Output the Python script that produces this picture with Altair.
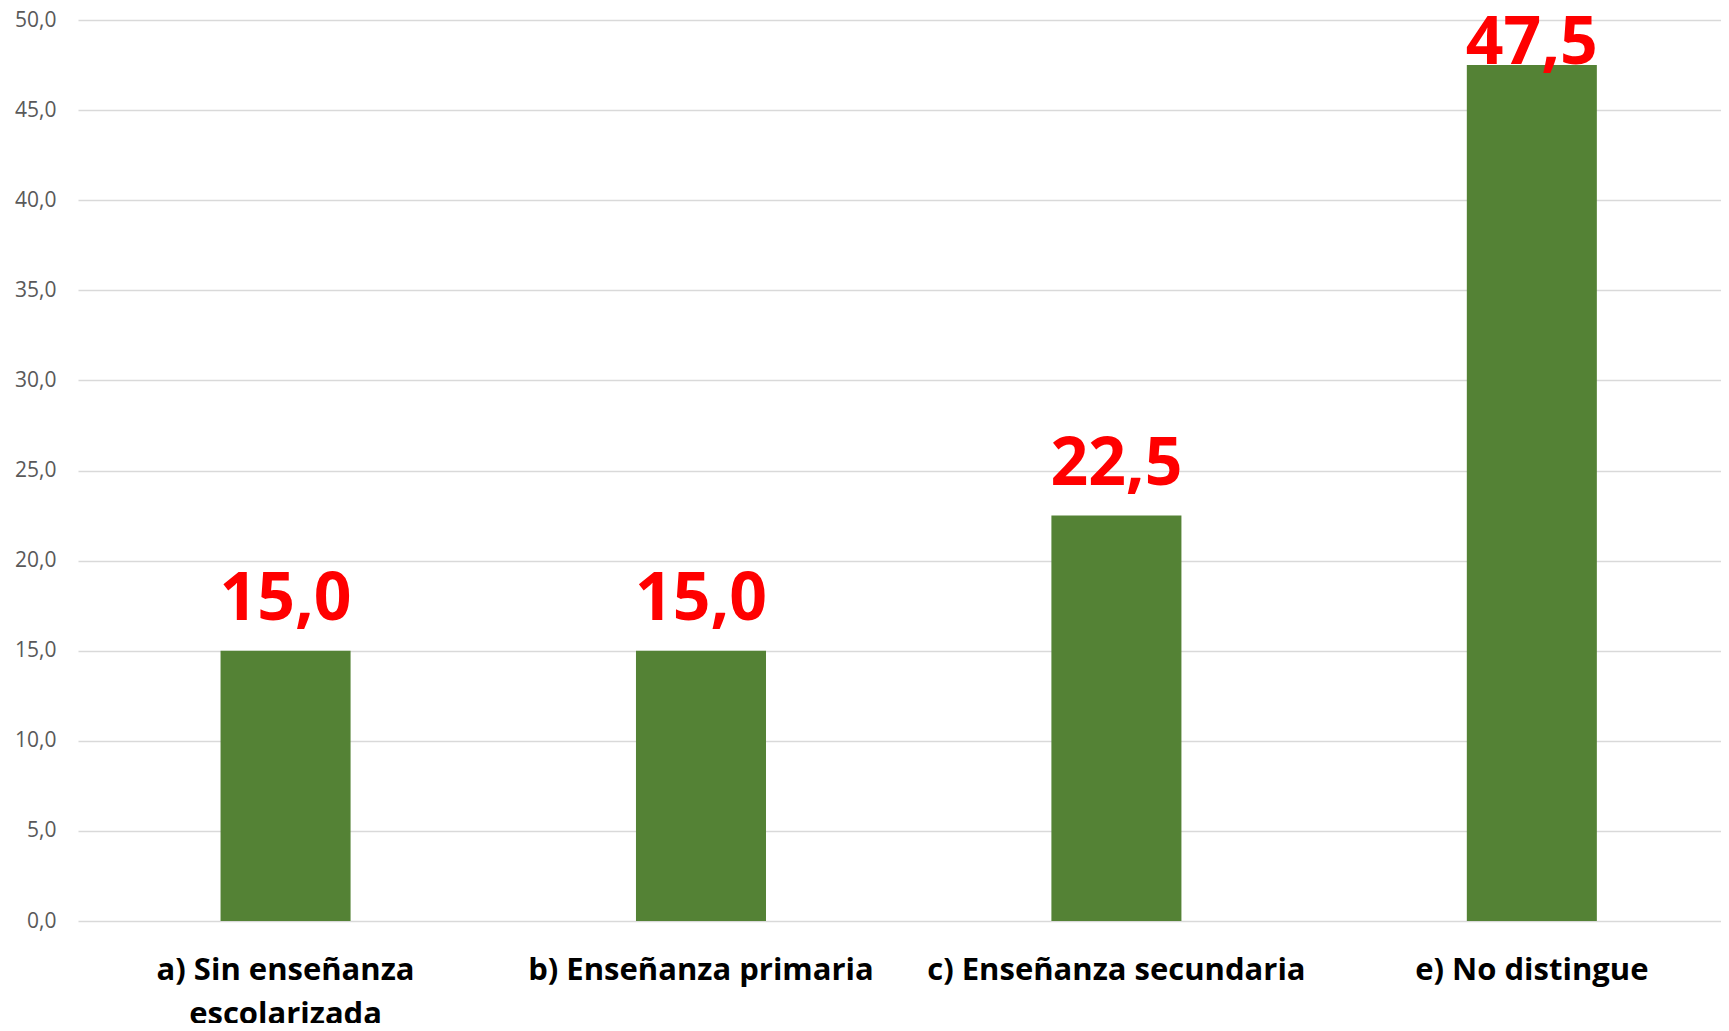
import altair as alt
import pandas as pd

categories = ["a) Sin enseñanza escolarizada", "b) Enseñanza primaria",
              "c) Enseñanza secundaria", "e) No distingue"]
values = [15.0, 15.0, 22.5, 47.5]
y_ticks = [0, 5, 10, 15, 20, 25, 30, 35, 40, 45, 50]

df = pd.DataFrame({"cat": categories, "v": values})

FONT = "Open Sans"

x = alt.X(
    "cat:N", sort=categories, title=None,
    scale=alt.Scale(paddingInner=0.687, paddingOuter=0.321, align=0.5345),
    axis=alt.Axis(
        labelAngle=0, domain=False, ticks=False, grid=False,
        labelFont=FONT, labelFontSize=31, labelFontWeight="bold",
        labelColor="#000000", labelPadding=34, labelLineHeight=44,
        labelLimit=600,
        labelExpr="datum.value == 'a) Sin enseñanza escolarizada' ? ['a) Sin enseñanza', 'escolarizada'] : datum.value",
    ),
)
y = alt.Y(
    "v:Q", title=None,
    scale=alt.Scale(domain=[0, 50], nice=False, zero=True),
    axis=alt.Axis(
        values=y_ticks, domain=False, ticks=False, grid=True,
        gridColor="#D9D9D9", gridWidth=1.5,
        labelFont=FONT, labelFontSize=21, labelColor="#595959",
        labelPadding=22,
        labelExpr="replace(format(datum.value, '.1f'), '.', ',')",
    ),
)

bars = alt.Chart(df).mark_bar(color="#548235").encode(x=x, y=y)

labels = (
    alt.Chart(df)
    .transform_calculate(
        txt="replace(format(datum.v, '.1f'), '.', ',')",
        ly="min(datum.v + 1.7, 47.55)",
    )
    .mark_text(font=FONT, fontSize=66, fontWeight="bold", color="#FF0000",
               baseline="alphabetic", align="center")
    .encode(x=alt.X("cat:N", sort=categories), y=alt.Y("ly:Q"), text="txt:N")
)

chart = (
    alt.layer(bars, labels)
    .properties(
        width=1643, height=901,
        autosize=alt.AutoSizeParams(type="none"),
        padding={"left": 70, "top": 12, "right": 0, "bottom": 102},
        background="#FFFFFF",
    )
    .configure_view(stroke=None)
)

chart.save("out.html", embed_options={"renderer": "svg", "actions": False})
